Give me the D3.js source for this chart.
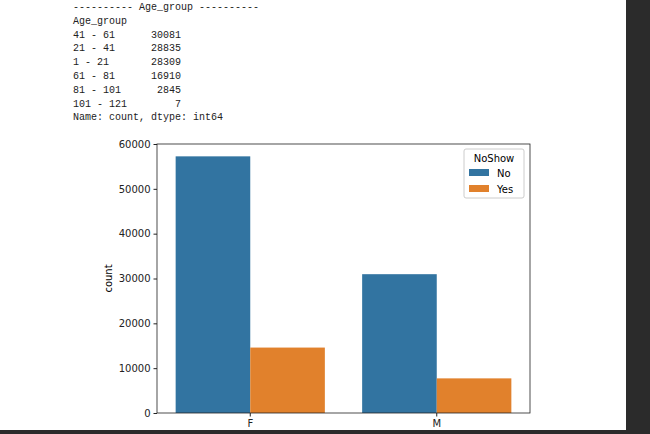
<!DOCTYPE html><html><head><script src="https://cdn.jsdelivr.net/npm/d3@7"></script>
<style>body{margin:0;background:#fff}</style></head><body><svg id="c" width="650" height="434"></svg><script>
const textLines=["---------- Age_group ----------","Age_group","41 - 61      30081","21 - 41      28835","1 - 21       28309","61 - 81      16910","81 - 101      2845","101 - 121        7","Name: count, dtype: int64"];
const categories=["F","M"];
const hues=["No","Yes"];
const noValues=[57246,30962];
const yesValues=[14594,7725];
const yTicks=[0,10000,20000,30000,40000,50000,60000];
const colors=["#3274a1","#e1812c"];
const svg=d3.select("#c");
svg.append("rect").attr("x",626).attr("y",0).attr("width",24).attr("height",434).attr("fill","#2b2b2b");
svg.append("rect").attr("x",0).attr("y",430).attr("width",650).attr("height",4).attr("fill","#2b2b2b");
svg.selectAll("text.o").data(textLines).enter().append("text").attr("x",73).attr("y",(d,i)=>10+i*13.8)
 .attr("font-family","Liberation Mono, DejaVu Sans Mono, monospace").attr("font-size",10).attr("fill","#222")
 .attr("xml:space","preserve").style("white-space","pre").text(d=>d);
const L=157,R=530,T=144,B=413;
const x=d3.scaleBand().domain(categories).range([L,R]).paddingInner(0.2).paddingOuter(0.1);
const xs=d3.scaleBand().domain(hues).range([0,x.bandwidth()]);
const y=d3.scaleLinear().domain([0,60000]).range([B,T]);
const data=categories.flatMap((c,i)=>[{c,h:"No",v:noValues[i]},{c,h:"Yes",v:yesValues[i]}]);
svg.selectAll("rect.b").data(data).enter().append("rect").attr("x",d=>x(d.c)+xs(d.h)).attr("width",xs.bandwidth())
 .attr("y",d=>y(d.v)).attr("height",d=>B-y(d.v)).attr("fill",d=>colors[hues.indexOf(d.h)]);
const ya=svg.append("g").attr("transform",`translate(${L},0)`).call(d3.axisLeft(y).tickValues(yTicks).tickSize(3.5).tickFormat(d3.format("d")));
const xa=svg.append("g").attr("transform",`translate(0,${B})`).call(d3.axisBottom(x).tickSize(3.5));
[ya,xa].forEach(a=>{a.select(".domain").remove();a.selectAll("text").attr("font-family","DejaVu Sans").attr("font-size",10).attr("fill","#222");a.selectAll("line").attr("stroke","#222");});
svg.append("rect").attr("x",L).attr("y",T).attr("width",R-L).attr("height",B-T).attr("fill","none").attr("stroke","#222").attr("stroke-width",0.8);
svg.append("text").attr("transform",`translate(112,${(T+B)/2}) rotate(-90)`).attr("text-anchor","middle").attr("font-family","DejaVu Sans").attr("font-size",10).text("count");
const lg=svg.append("g").attr("transform","translate(464,149)");
lg.append("rect").attr("width",60).attr("height",49).attr("rx",2).attr("fill","#fff").attr("stroke","#ccc");
lg.append("text").attr("x",30).attr("y",13).attr("text-anchor","middle").attr("font-family","DejaVu Sans").attr("font-size",10).text("NoShow");
hues.forEach((h,i)=>{lg.append("rect").attr("x",5).attr("y",20+i*16).attr("width",20).attr("height",7).attr("fill",colors[i]);
 lg.append("text").attr("x",33).attr("y",28+i*16).attr("font-family","DejaVu Sans").attr("font-size",10).text(h);});
</script></body></html>
